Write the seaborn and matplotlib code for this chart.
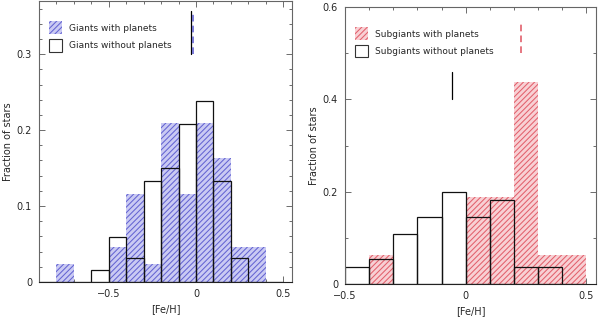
import numpy as np
import pandas as pd
import matplotlib
matplotlib.use("Agg")
import matplotlib.pyplot as plt
import seaborn as sns
from matplotlib.patches import Patch
from matplotlib.ticker import MultipleLocator

sns.set_theme(style="ticks")
plt.rcParams['font.family'] = ['DejaVu Sans']
plt.rcParams['hatch.linewidth'] = 0.75

# ---- data ----
giant_edges = [-0.9, -0.8, -0.7, -0.6, -0.5, -0.4, -0.3, -0.2, -0.1, 0.0, 0.1, 0.2, 0.3, 0.4, 0.5]
giants_with = [0, 0.0233, 0, 0, 0.0465, 0.116, 0.0233, 0.209, 0.116, 0.209, 0.163, 0.0465, 0.0465, 0]
giants_without = [0, 0, 0, 0.0163, 0.0595, 0.031, 0.1336, 0.1495, 0.208, 0.2386, 0.1336, 0.031, 0, 0]
giant_mean_with = -0.016
giant_mean_without = -0.028

sub_edges = [-0.5, -0.4, -0.3, -0.2, -0.1, 0.0, 0.1, 0.2, 0.3, 0.4, 0.5]
sub_with = [0, 0.0625, 0, 0, 0, 0.1875, 0.1875, 0.4375, 0.0625, 0.0625]
sub_without = [0.036, 0.054, 0.108, 0.145, 0.2, 0.145, 0.182, 0.036, 0.036, 0]
sub_mean_with = 0.23
sub_mean_without = -0.058

fig = plt.figure(figsize=(6.0, 3.18), dpi=100)
ax0 = fig.add_axes([0.065, 0.1132, 0.4217, 0.8836])
ax1 = fig.add_axes([0.575, 0.1069, 0.4183, 0.871])

HATCH = "//////"

def panel(ax, edges, with_vals, without_vals, fill, hatchc, labels, mean_w, mean_wo,
          mean_y_w, mean_y_wo, leg_y):
    edges = [float(e) for e in edges]
    centers = [(a + b) / 2 for a, b in zip(edges[:-1], edges[1:])]
    dfw = pd.DataFrame({"feh": centers, "frac": with_vals})
    dfo = pd.DataFrame({"feh": centers, "frac": without_vals})
    sns.histplot(data=dfw, x="feh", weights="frac", bins=edges, element="bars",
                 stat="count", fill=True, color=fill, alpha=1.0, linewidth=0,
                 ax=ax)
    for p in ax.patches:
        p.set_facecolor(fill)
        p.set_edgecolor(hatchc)
        p.set_hatch(HATCH)
        p.set_linewidth(0)
    sns.histplot(data=dfo, x="feh", weights="frac", bins=edges, element="bars",
                 stat="count", fill=False, color="#111111", linewidth=0.9, ax=ax)
    ax.plot([mean_wo, mean_wo], mean_y_wo, color="black", lw=0.9)
    ax.plot([mean_w, mean_w], mean_y_w, color=hatchc, lw=1.2, dashes=(4, 2.5))
    h1 = Patch(facecolor=fill, edgecolor=hatchc, hatch=HATCH, linewidth=0)
    h2 = Patch(facecolor="white", edgecolor="#333333", linewidth=0.8)
    ax.legend([h1, h2], labels, loc="upper left", frameon=False, fontsize=6.5,
              handlelength=1.5, handleheight=1.8, borderaxespad=0.0,
              labelspacing=0.5, handletextpad=0.7, bbox_to_anchor=(0.025, leg_y))
    ax.set_xlabel("[Fe/H]", fontsize=7, labelpad=4)
    ax.set_ylabel("Fraction of stars", fontsize=7, labelpad=3)
    ax.tick_params(axis="both", which="both", direction="in", top=True, right=True,
                   labelsize=7, width=0.6, color="#555555")
    ax.tick_params(axis="x", which="major", pad=5)
    ax.tick_params(axis="y", which="major", pad=5)
    ax.tick_params(which="major", length=4)
    ax.tick_params(which="minor", length=2)
    for s in ax.spines.values():
        s.set_linewidth(0.8)
        s.set_color("#666666")
    ax.spines["bottom"].set_color("#222222")

panel(ax0, giant_edges, giants_with, giants_without, "#cacaf3", "#6464d2",
      ["Giants with planets", "Giants without planets"],
      giant_mean_with, giant_mean_without, (0.30, 0.357), (0.30, 0.357), 0.94)
ax0.set_xlim(-0.9, 0.55)
ax0.set_ylim(0, 0.37)
ax0.xaxis.set_minor_locator(MultipleLocator(0.1))
ax0.yaxis.set_minor_locator(MultipleLocator(0.02))
ax0.set_xticks([-0.5, 0, 0.5])
ax0.set_xticklabels(["\u22120.5", "0", "0.5"])
ax0.set_yticks([0, 0.1, 0.2, 0.3])
ax0.set_yticklabels(["0", "0.1", "0.2", "0.3"])

panel(ax1, sub_edges, sub_with, sub_without, "#f8d0d4", "#e2606c",
      ["Subgiants with planets", "Subgiants without planets"],
      sub_mean_with, sub_mean_without, (0.50, 0.563), (0.40, 0.46), 0.94)
ax1.set_xlim(-0.5, 0.54)
ax1.set_ylim(0, 0.6)
ax1.xaxis.set_minor_locator(MultipleLocator(0.1))
ax1.yaxis.set_minor_locator(MultipleLocator(0.1))
ax1.set_xticks([-0.5, 0, 0.5])
ax1.set_xticklabels(["\u22120.5", "0", "0.5"])
ax1.set_yticks([0, 0.2, 0.4, 0.6])
ax1.set_yticklabels(["0", "0.2", "0.4", "0.6"])

fig.savefig("out.png", dpi=100)
